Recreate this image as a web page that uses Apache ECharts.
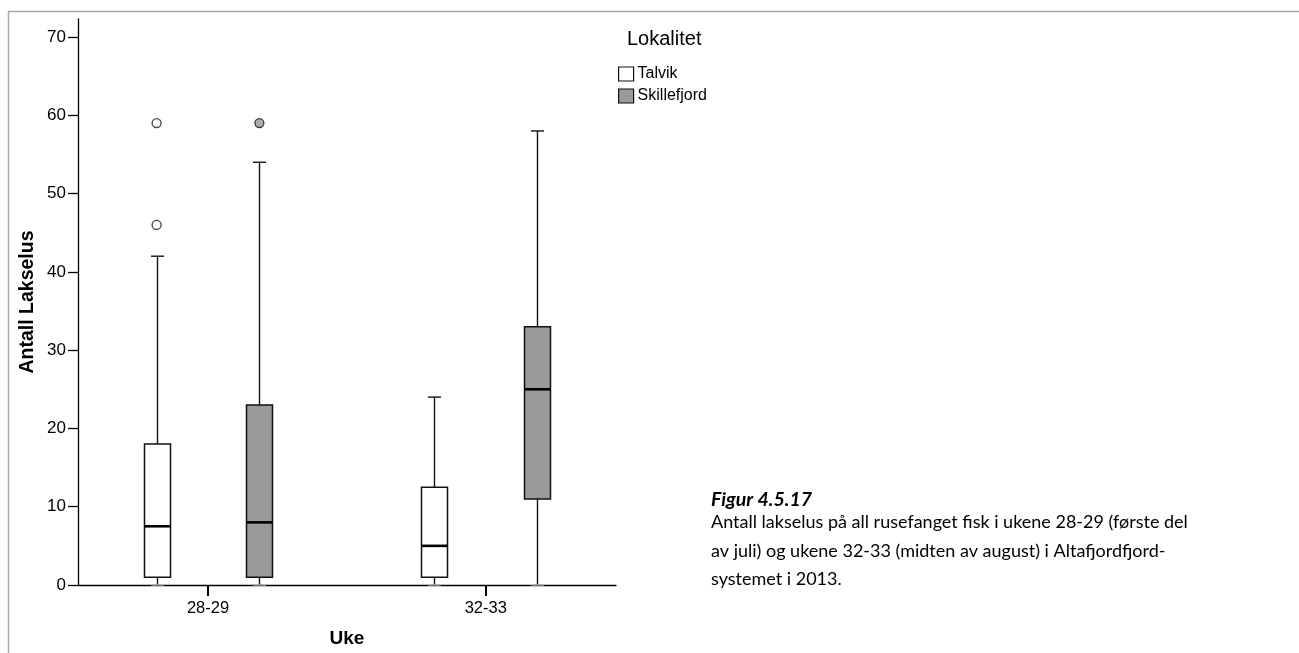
<!DOCTYPE html>
<html>
<head>
<meta charset="utf-8">
<script src="https://cdn.jsdelivr.net/npm/echarts@6/dist/echarts.min.js"></script>
<style>
html,body{margin:0;padding:0;background:#fff;}
#chart{width:1299px;height:653px;}
</style>
</head>
<body>
<div id="chart"></div>
<script>
// ---- data ----
const categories = ['28-29', '32-33'];
const seriesNames = ['Talvik', 'Skillefjord'];
// [low whisker, Q1, median, Q3, high whisker] per category
const talvikStats = [[0, 1, 7.5, 18, 42], [0, 1, 5, 12.5, 24]];
const skillefjordStats = [[0, 1, 8, 23, 54], [0, 11, 25, 33, 58]];
// [category index, value]
const talvikOutliers = [[0, 46], [0, 59]];
const skillefjordOutliers = [[0, 59]];
const yTicks = [0, 10, 20, 30, 40, 50, 60, 70];
const captionTitle = 'Figur 4.5.17';
const captionLines = [
  'Antall lakselus på all rusefanget fisk i ukene 28-29 (første del',
  'av juli) og ukene 32-33 (midten av august) i Altafjordfjord-',
  'systemet i 2013.'
];

// ---- chart ----
const chart = echarts.init(document.getElementById('chart'));
const OFFSET = 0.185;
const catPos = categories.map((c, i) => i + 1);

function boxData(stats, off) {
  return stats.map((s, i) => [catPos[i] + off].concat(s));
}
function outlierData(arr, off) {
  return arr.map(o => [catPos[o[0]] + off, o[1]]);
}

function makeRender(fill) {
  return function (params, api) {
    const x = api.value(0);
    const lo = api.coord([x, api.value(1)]);
    const q1 = api.coord([x, api.value(2)]);
    const md = api.coord([x, api.value(3)]);
    const q3 = api.coord([x, api.value(4)]);
    const hi = api.coord([x, api.value(5)]);
    const cx = Math.round(lo[0]) + 0.5;
    const hw = 13, cw = 6.5;
    const ls = { stroke: '#111', lineWidth: 1.4 };
    return {
      type: 'group',
      children: [
        { type: 'line', shape: { x1: cx, y1: hi[1], x2: cx, y2: q3[1] }, style: ls },
        { type: 'line', shape: { x1: cx, y1: q1[1], x2: cx, y2: lo[1] }, style: ls },
        { type: 'line', shape: { x1: cx - cw, y1: hi[1], x2: cx + cw, y2: hi[1] }, style: ls },
        { type: 'line', shape: { x1: cx - cw, y1: lo[1], x2: cx + cw, y2: lo[1] }, style: { stroke: '#aaa', lineWidth: 1.4 } },
        { type: 'rect', shape: { x: cx - hw, y: q3[1], width: hw * 2, height: q1[1] - q3[1] },
          style: { fill: fill, stroke: '#111', lineWidth: 1.5 } },
        { type: 'line', shape: { x1: cx - hw, y1: md[1], x2: cx + hw, y2: md[1] }, style: { stroke: '#000', lineWidth: 2.6 } }
      ]
    };
  };
}

const fonts = '"Liberation Sans", Arial, sans-serif';
const captionFont = 'Lato, "Open Sans", sans-serif';

chart.setOption({
  animation: false,
  grid: { left: 78, right: 683, top: 19, bottom: 65 },
  legend: {
    orient: 'vertical',
    left: 613,
    top: 61,
    itemWidth: 15,
    itemHeight: 14,
    itemGap: 6,
    textStyle: { fontFamily: fonts, fontSize: 16, color: '#000', padding: [0, 0, 0, -1] },
    data: [
      { name: 'Talvik', icon: 'rect', itemStyle: { color: '#fff', borderColor: '#111', borderWidth: 1.2 } },
      { name: 'Skillefjord', icon: 'rect', itemStyle: { color: '#999', borderColor: '#111', borderWidth: 1.2 } }
    ]
  },
  xAxis: {
    type: 'value',
    min: 0.532,
    max: 2.469,
    name: 'Uke',
    nameLocation: 'middle',
    nameGap: 44,
    nameTextStyle: { fontFamily: fonts, fontSize: 19, fontWeight: 'bold', color: '#000' },
    splitLine: { show: false },
    axisLine: { show: true, lineStyle: { color: '#000', width: 1.3 } },
    axisTick: { show: true, length: 11, customValues: catPos, lineStyle: { color: '#000', width: 2 } },
    axisLabel: {
      customValues: catPos,
      margin: 15,
      fontFamily: fonts, fontSize: 16.5, color: '#000',
      formatter: v => categories[Math.round(v) - 1] || ''
    }
  },
  yAxis: {
    type: 'value',
    min: 0,
    max: 72.3,
    name: 'Antall Lakselus',
    nameLocation: 'middle',
    nameGap: 40,
    nameTextStyle: { fontFamily: fonts, fontSize: 19.5, fontWeight: 'bold', color: '#000' },
    splitLine: { show: false },
    axisLine: { show: true, lineStyle: { color: '#000', width: 1.3 } },
    axisTick: { show: true, length: 10, customValues: yTicks, lineStyle: { color: '#000', width: 1.3 } },
    axisLabel: { customValues: yTicks, margin: 12, fontFamily: fonts, fontSize: 17, color: '#000' }
  },
  graphic: [
    { type: 'rect', shape: { x: 8.5, y: 11.5, width: 1400, height: 800 }, style: { fill: 'none', stroke: '#a8a8a8', lineWidth: 1.5 }, silent: true, z: -10 },
    { type: 'text', left: 627, top: 29, style: { text: 'Lokalitet', fontFamily: fonts, fontSize: 20, fill: '#000' } },
    { type: 'text', left: 711, top: 490, style: { text: captionTitle, fontFamily: captionFont, fontSize: 19.5, fontWeight: 'bold', fontStyle: 'italic', fill: '#000' } },
    { type: 'text', left: 711, top: 508, style: { text: captionLines.join('\n'), fontFamily: captionFont, fontSize: 18, lineHeight: 28.5, fill: '#000' } }
  ],
  series: [
    { name: 'Talvik', type: 'custom', renderItem: makeRender('#fff'), data: boxData(talvikStats, -OFFSET),
      encode: { x: 0, y: [1, 2, 3, 4, 5] }, itemStyle: { color: '#fff' }, z: 3 },
    { name: 'Skillefjord', type: 'custom', renderItem: makeRender('#999'), data: boxData(skillefjordStats, OFFSET),
      encode: { x: 0, y: [1, 2, 3, 4, 5] }, itemStyle: { color: '#999' }, z: 3 },
    { name: 'Talvik', type: 'scatter', data: outlierData(talvikOutliers, -OFFSET), symbol: 'circle', symbolSize: 9,
      itemStyle: { color: '#fff', borderColor: '#111', borderWidth: 1.3 }, z: 4 },
    { name: 'Skillefjord', type: 'scatter', data: outlierData(skillefjordOutliers, OFFSET), symbol: 'circle', symbolSize: 9,
      itemStyle: { color: '#999', borderColor: '#111', borderWidth: 1.3 }, z: 4 }
  ]
});
</script>
</body>
</html>
